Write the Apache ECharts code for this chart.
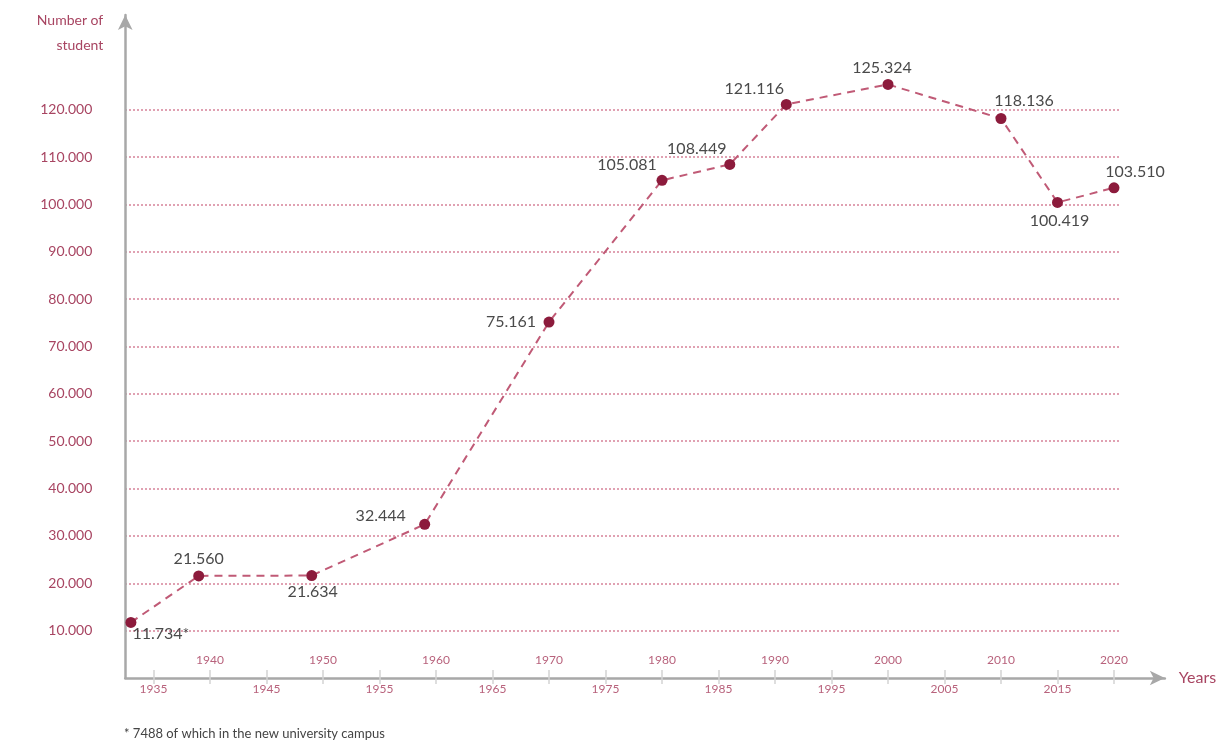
<!DOCTYPE html>
<html>
<head>
<meta charset="utf-8">
<script src="https://cdn.jsdelivr.net/npm/echarts@6/dist/echarts.min.js"></script>
<style>
  html, body { margin: 0; padding: 0; background: #ffffff; }
  #chart { width: 1225px; height: 744px; }
</style>
</head>
<body>
<div id="chart"></div>
<script>
// Student enrolment by year
const years    = [1933, 1939, 1949, 1959, 1970, 1980, 1986, 1991, 2000, 2010, 2015, 2020];
const students = [11734, 21560, 21634, 32444, 75161, 105081, 108449, 121116, 125324, 118136, 100419, 103510];
const footMarks = ['*', '', '', '', '', '', '', '', '', '', '', ''];

// Axis tick labels
const yTicks     = [10000, 20000, 30000, 40000, 50000, 60000, 70000, 80000, 90000, 100000, 110000, 120000];
const upperYears = [1940, 1950, 1960, 1970, 1980, 1990, 2000, 2010, 2020];
const lowerYears = [1935, 1945, 1955, 1965, 1975, 1985, 1995, 2005, 2015];
const allYears   = upperYears.concat(lowerYears).sort((a, b) => a - b);

// Label placement around each point (text centre relative to the marker)
const labelOffsets = [[30, 11], [0, -17], [1, 16], [-44, -9], [-38, 0], [-35, -15],
                      [-33, -16], [-32, -16], [-6, -17], [23, -18], [2, 18], [21, -16]];

const fmt = v => String(v).replace(/\B(?=(\d{3})+(?!\d))/g, '.');
const yearFmt = v => String(Math.round(v));

const FONT = 'Lato, "Open Sans", sans-serif';
const ROSE = '#a84562';
const ROSE_LIGHT = '#b8627c';
const AXIS_GREY = '#a8a8a8';

// geometry: 11.3 px per year, 47.36 px per 10.000 students
const left = 125.25;
const xMin = 1932.5;
const pxYear = 11.3;
const axisY = 678;
const px10k = 47.36;

const chart = echarts.init(document.getElementById('chart'));

const seriesData = years.map((y, i) => ({
  value: [y, students[i]],
  label: { offset: labelOffsets[i] }
}));

chart.setOption({
  animation: false,
  backgroundColor: '#ffffff',
  grid: [
    { // gridlines + value labels (10.000 – 120.000), ends at 2020
      left: left,
      width: (2020.5 - xMin) * pxYear,
      top: axisY - 12 * px10k,
      height: 11 * px10k
    },
    { // axes with arrows and the series
      left: left,
      width: (2024.5 - xMin) * pxYear,
      top: axisY - 14 * px10k,
      height: 14 * px10k
    }
  ],
  xAxis: [
    { gridIndex: 0, type: 'value', min: xMin, max: 2020.5, show: false },
    {
      gridIndex: 1, type: 'value', min: xMin, max: 2024.5, position: 'bottom',
      name: 'Years', nameLocation: 'end', nameGap: 14,
      nameTextStyle: { color: ROSE, fontFamily: FONT, fontSize: 16, align: 'left', verticalAlign: 'middle' },
      axisLine: { show: true, symbol: ['none', 'arrow'], symbolSize: [11, 15],
                  lineStyle: { color: AXIS_GREY, width: 2.5 } },
      axisTick: { show: true, inside: true, length: 8, customValues: allYears,
                  lineStyle: { color: '#d4d4d4', width: 1.5 } },
      axisLabel: { show: true, inside: true, margin: 12, customValues: upperYears,
                   formatter: yearFmt, color: ROSE_LIGHT, fontFamily: FONT, fontSize: 12 },
      splitLine: { show: false }
    },
    {
      gridIndex: 1, type: 'value', min: xMin, max: 2024.5, position: 'bottom',
      axisLine: { show: false },
      axisTick: { show: true, inside: false, length: 6, customValues: allYears,
                  lineStyle: { color: '#d4d4d4', width: 1.5 } },
      axisLabel: { show: true, margin: 5, customValues: lowerYears,
                   formatter: yearFmt, color: ROSE_LIGHT, fontFamily: FONT, fontSize: 12 },
      splitLine: { show: false }
    }
  ],
  yAxis: [
    {
      gridIndex: 0, type: 'value', min: 10000, max: 120000, interval: 10000,
      axisLine: { show: false }, axisTick: { show: false },
      axisLabel: { show: true, margin: 33, color: ROSE, fontFamily: FONT, fontSize: 14,
                   formatter: v => fmt(v), customValues: yTicks },
      splitLine: { show: true, lineStyle: { color: '#c95a78', type: [1.5, 2.5], width: 1.5 } }
    },
    {
      gridIndex: 1, type: 'value', min: 0, max: 140000,
      name: 'Number of\nstudent', nameLocation: 'end', nameGap: 7,
      nameTextStyle: { color: ROSE, fontFamily: FONT, fontSize: 14, lineHeight: 25,
                       align: 'right', verticalAlign: 'top', padding: [0, 22, 0, 0] },
      axisLine: { show: true, symbol: ['none', 'arrow'], symbolSize: [11, 15],
                  lineStyle: { color: AXIS_GREY, width: 2.5 } },
      axisTick: { show: false }, axisLabel: { show: false }, splitLine: { show: false }
    }
  ],
  series: [{
    type: 'line',
    xAxisIndex: 1,
    yAxisIndex: 1,
    data: seriesData,
    symbol: 'circle',
    symbolSize: 11,
    clip: false,
    itemStyle: { color: '#8c1b3c' },
    lineStyle: { color: '#c05a76', width: 2, type: [8, 6] },
    label: {
      show: true,
      position: 'inside',
      color: '#4a4a4a',
      fontFamily: FONT,
      fontSize: 16,
      formatter: p => fmt(p.value[1]) + footMarks[p.dataIndex]
    },
    z: 5
  }],
  graphic: [{
    type: 'text',
    left: 124,
    top: 727,
    style: { text: '* 7488 of which in the new university campus', fill: '#444444',
             font: '13px ' + FONT }
  }]
});
</script>
</body>
</html>
